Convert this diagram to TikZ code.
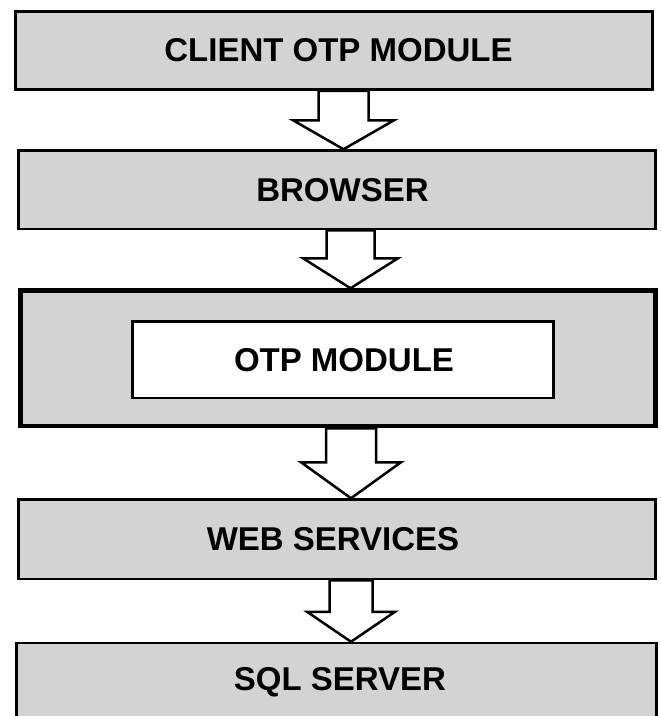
\documentclass[tikz,border=0pt]{standalone}
\usepackage{fontspec}
\setmainfont{Liberation Sans}
\usetikzlibrary{calc}
\definecolor{boxgray}{RGB}{211,211,211}
\tikzset{
  layerbox/.style={draw=black, fill=boxgray, line width=2.5pt, inner sep=0pt,
    font=\fontsize{33}{39}\selectfont\bfseries, text=black},
  corebox/.style={layerbox, line width=4.5pt},
  innerbox/.style={layerbox, fill=white, line width=2.5pt},
  blockarrowstyle/.style={draw=black, fill=white, line width=2.5pt, line join=miter}
}
% #1 from node, #2 to node, #3 x of arrow axis, #4 shaft half width, #5 head half width, #6 head length
\newcommand\blockarr[6]{%
  \draw[blockarrowstyle] let \p1=(#1.south), \p2=(#2.north) in
    ({#3-#4},\y1) -- ({#3-#4},{\y2+#6}) -- ({#3-#5},{\y2+#6}) -- (#3,\y2)
    -- ({#3+#5},{\y2+#6}) -- ({#3+#4},{\y2+#6}) -- ({#3+#4},\y1) -- cycle;}
\begin{document}
\begin{tikzpicture}[x=1pt,y=-1pt]
\useasboundingbox (0,0) rectangle (661,716);
\clip (0,0) rectangle (661,716);
\node[layerbox, minimum width=637pt, minimum height=78pt] (client) at (334,50.5) {\hspace*{9pt}CLIENT OTP MODULE};
\node[layerbox, minimum width=637pt, minimum height=78.5pt] (browser) at (337,189.75) {\hspace*{11pt}BROWSER};
\node[corebox, minimum width=635pt, minimum height=135.5pt] (core) at (338,358.25) {};
\node[innerbox, minimum width=421pt, minimum height=76.5pt] (otp) at (343,359.75) {\hspace*{2pt}OTP MODULE};
\node[layerbox, minimum width=637pt, minimum height=79.5pt] (web) at (337,539.25) {WEB SERVICES\hspace*{8pt}};
\node[layerbox, minimum width=640pt, minimum height=78pt] (sql) at (336.5,682) {\hspace*{7pt}SQL SERVER};
\blockarr{client}{browser}{343.5}{25}{50.5}{29}
\blockarr{browser}{core}{350.5}{24}{47.5}{30}
\blockarr{core}{web}{351}{25}{50}{36}
\blockarr{web}{sql}{351}{21.5}{44}{30}
\end{tikzpicture}
\end{document}
